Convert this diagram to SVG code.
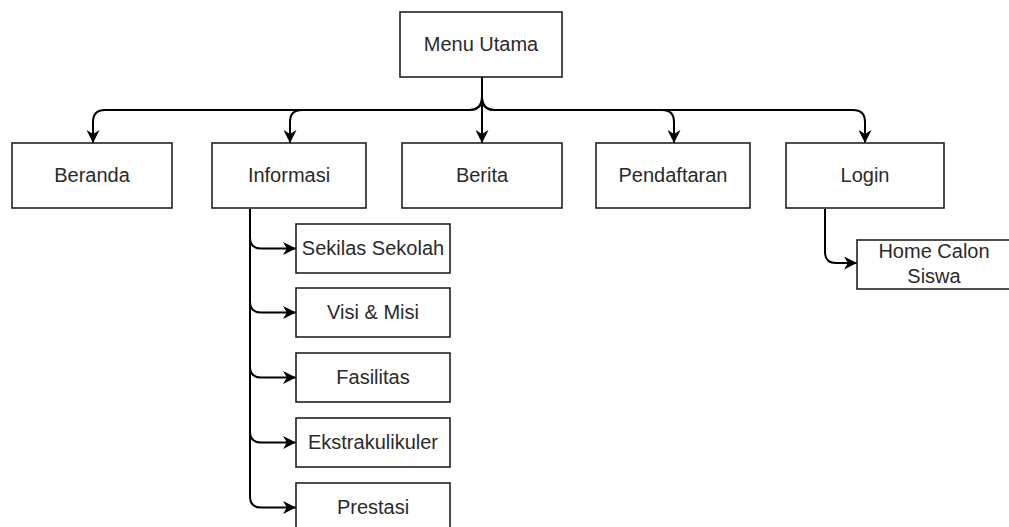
<svg xmlns="http://www.w3.org/2000/svg" width="1009" height="527" viewBox="0 0 1009 527">
<defs>
<style>
.box{fill:#fff;stroke:#222;stroke-width:1.6}
.t{font-family:"Liberation Sans",Arial,sans-serif;font-size:20px;fill:#2a2a2a;text-anchor:middle}
.e{fill:none;stroke:#000;stroke-width:2}
</style>
<marker id="ah" viewBox="0 0 10 10" refX="10" refY="5" markerWidth="14" markerHeight="13" markerUnits="userSpaceOnUse" orient="auto">
<path d="M0,0 L10,5 L0,10 L3,5 Z" fill="#000"/>
</marker>
</defs>
<rect width="1009" height="527" fill="#fff"/>
<g id="connectors">
<path class="e" marker-end="url(#ah)" d="M482,77 V97 Q482,110 469,110 H105 Q93,110 93,122 V143"/>
<path class="e" marker-end="url(#ah)" d="M482,77 V97 Q482,110 469,110 H302 Q290,110 290,122 V143"/>
<path class="e" marker-end="url(#ah)" d="M482,77 V143"/>
<path class="e" marker-end="url(#ah)" d="M482,77 V97 Q482,110 495,110 H662 Q674,110 674,122 V143"/>
<path class="e" marker-end="url(#ah)" d="M482,77 V97 Q482,110 495,110 H853 Q865,110 865,122 V143"/>
<path class="e" marker-end="url(#ah)" d="M250,209 V237.5 Q250,248.5 261,248.5 H296"/>
<path class="e" marker-end="url(#ah)" d="M250,209 V301.5 Q250,312.5 261,312.5 H296"/>
<path class="e" marker-end="url(#ah)" d="M250,209 V366.5 Q250,377.5 261,377.5 H296"/>
<path class="e" marker-end="url(#ah)" d="M250,209 V431.5 Q250,442.5 261,442.5 H296"/>
<path class="e" marker-end="url(#ah)" d="M250,209 V496.5 Q250,507.5 261,507.5 H296"/>
<path class="e" marker-end="url(#ah)" d="M825,209 V252 Q825,263 836,263 H857"/>
</g>
<g id="menu-utama"><rect class="box" x="400" y="12" width="162" height="65"/><text class="t" x="481" y="51">Menu Utama</text></g>
<g id="beranda"><rect class="box" x="12" y="143" width="160" height="65"/><text class="t" x="92" y="182">Beranda</text></g>
<g id="informasi"><rect class="box" x="212" y="143" width="154" height="65"/><text class="t" x="289" y="182">Informasi</text></g>
<g id="berita"><rect class="box" x="402" y="143" width="160" height="65"/><text class="t" x="482" y="182">Berita</text></g>
<g id="pendaftaran"><rect class="box" x="596" y="143" width="154" height="65"/><text class="t" x="673" y="182">Pendaftaran</text></g>
<g id="login"><rect class="box" x="786" y="143" width="158" height="65"/><text class="t" x="865" y="182">Login</text></g>
<g id="sekilas-sekolah"><rect class="box" x="296" y="224" width="154" height="49"/><text class="t" x="373" y="254.5">Sekilas Sekolah</text></g>
<g id="visi-misi"><rect class="box" x="296" y="288" width="154" height="49"/><text class="t" x="373" y="318.5">Visi &amp; Misi</text></g>
<g id="fasilitas"><rect class="box" x="296" y="353" width="154" height="49"/><text class="t" x="373" y="383.5">Fasilitas</text></g>
<g id="ekstrakulikuler"><rect class="box" x="296" y="418" width="154" height="49"/><text class="t" x="373" y="448.5">Ekstrakulikuler</text></g>
<g id="prestasi"><rect class="box" x="296" y="483" width="154" height="49"/><text class="t" x="373" y="513.5">Prestasi</text></g>
<g id="home-calon-siswa"><rect class="box" x="857" y="240" width="160" height="49"/><text class="t" x="934" y="258">Home Calon</text><text class="t" x="934" y="283">Siswa</text></g>
</svg>
